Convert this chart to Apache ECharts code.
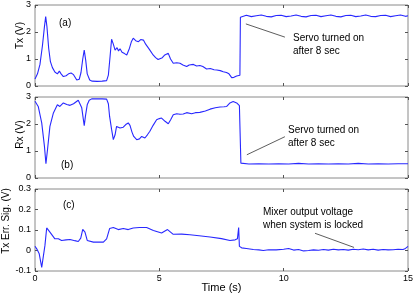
<!DOCTYPE html>
<html><head><meta charset="utf-8">
<script src="https://cdn.jsdelivr.net/npm/echarts@6/dist/echarts.min.js"></script>
<style>html,body{margin:0;padding:0;background:#fff}#c{width:415px;height:294px}</style>
</head><body><div id="c"></div>
<script>
// ---- data ----
const txTime = [0,0.1,0.2,0.3,0.38,0.43,0.48,0.55,0.62,0.7,0.8,0.9,0.98,1.05,1.14,1.25,1.35,1.45,1.55,1.68,1.78,1.85,1.92,1.98,2.04,2.1,2.2,2.3,2.5,2.7,2.88,2.95,3.02,3.08,3.15,3.22,3.3,3.36,3.42,3.5,3.6,3.69,3.8,3.88,3.95,4.05,4.16,4.25,4.36,4.45,4.55,4.62,4.75,4.85,4.95,5.03,5.12,5.22,5.3,5.36,5.45,5.56,5.7,5.83,5.95,6.1,6.2,6.37,6.5,6.63,6.75,6.9,7.05,7.2,7.31,7.45,7.57,7.7,7.8,7.91,8.0,8.11,8.18,8.24,8.26,8.32,8.5,8.7,8.9,9.1,9.3,9.5,9.7,9.9,10.1,10.3,10.5,10.7,10.9,11.1,11.3,11.5,11.7,11.9,12.1,12.3,12.5,12.7,12.9,13.1,13.3,13.5,13.7,13.9,14.1,14.3,14.5,14.7,14.9,15];
const txVolt = [0.26,0.45,0.8,1.5,2.2,2.57,2.2,1.4,0.9,0.68,0.52,0.45,0.55,0.45,0.35,0.38,0.45,0.48,0.42,0.22,0.25,0.5,1.0,1.33,0.95,0.45,0.22,0.18,0.17,0.18,0.2,0.4,1.1,1.73,1.55,1.33,1.42,1.3,1.38,1.25,1.2,1.15,1.4,1.65,1.77,1.68,1.64,1.72,1.7,1.55,1.42,1.33,1.15,1.05,0.98,0.96,1.05,1.15,1.22,1.21,1.0,0.84,0.86,0.84,0.78,0.72,0.78,0.8,0.74,0.76,0.72,0.63,0.65,0.6,0.59,0.57,0.53,0.5,0.45,0.31,0.32,0.37,0.4,0.4,2.55,2.6,2.62,2.57,2.6,2.63,2.58,2.56,2.61,2.62,2.57,2.59,2.63,2.58,2.56,2.61,2.62,2.57,2.6,2.63,2.58,2.56,2.61,2.62,2.57,2.59,2.63,2.58,2.57,2.61,2.62,2.57,2.6,2.63,2.58,2.6];

const rxTime = [0,0.13,0.27,0.38,0.44,0.51,0.6,0.74,0.9,1.0,1.14,1.28,1.41,1.55,1.74,1.82,1.88,1.94,1.98,2.03,2.1,2.18,2.28,2.5,2.7,2.88,2.95,3.0,3.08,3.15,3.22,3.28,3.35,3.42,3.55,3.65,3.75,3.82,3.9,3.97,4.09,4.2,4.29,4.42,4.52,4.62,4.75,4.89,5.0,5.09,5.23,5.36,5.45,5.56,5.7,5.83,5.96,6.1,6.17,6.3,6.45,6.63,6.85,7.04,7.25,7.44,7.6,7.71,7.84,7.97,8.11,8.22,8.28,8.3,8.6,9.0,9.4,9.8,10.2,10.6,11.0,11.4,11.8,12.2,12.6,13.0,13.4,13.8,14.2,14.6,15];
const rxVolt = [2.84,2.65,2.04,1.17,0.53,1.11,1.91,2.41,2.71,2.65,2.78,2.72,2.69,2.75,2.88,2.82,2.6,2.2,1.94,2.3,2.71,2.88,2.93,2.93,2.93,2.92,2.75,2.28,1.8,1.42,1.6,1.91,1.88,1.85,1.88,1.98,2.04,1.95,1.7,1.54,1.42,1.45,1.54,1.48,1.6,1.73,1.95,2.16,2.2,2.22,2.1,2.01,2.15,2.34,2.38,2.36,2.37,2.42,2.44,2.38,2.42,2.43,2.48,2.55,2.6,2.63,2.64,2.65,2.78,2.83,2.78,2.68,0.55,0.53,0.52,0.53,0.52,0.53,0.52,0.54,0.52,0.53,0.52,0.53,0.52,0.54,0.52,0.53,0.52,0.53,0.53];

const errTime = [0,0.07,0.17,0.27,0.33,0.4,0.47,0.6,0.8,0.94,1.07,1.25,1.41,1.6,1.74,1.84,1.92,2.01,2.1,2.35,2.75,2.88,3.0,3.15,3.35,3.55,3.75,3.95,4.2,4.49,4.76,5.09,5.33,5.56,5.9,6.23,6.6,7.04,7.5,7.84,8.05,8.14,8.19,8.22,8.31,8.5,8.78,9.0,9.18,9.4,9.7,10.0,10.2,10.4,10.6,10.8,11.0,11.2,11.4,11.6,11.8,12.0,12.2,12.4,12.6,12.8,13.0,13.2,13.4,13.6,13.8,14.0,14.2,14.4,14.6,14.8,14.9,15];
const errVolt = [0.021,0.008,-0.016,-0.082,-0.08,0.025,0.11,0.09,0.057,0.057,0.049,0.052,0.054,0.048,0.044,0.06,0.103,0.09,0.049,0.041,0.041,0.057,0.107,0.112,0.102,0.107,0.102,0.11,0.112,0.112,0.098,0.085,0.102,0.079,0.08,0.077,0.072,0.066,0.058,0.049,0.052,0.057,0.112,0.02,0.013,0.01,0.005,0.003,0.0,0.004,0.003,0.006,0.01,0.002,0.005,-0.002,0.0,0.003,0.001,0.005,0.002,0.006,0.003,0.005,0.002,0.006,0.004,0.007,0.003,0.006,0.002,0.005,0.003,0.004,0.006,0.005,0.01,0.02];

const xTicks = [0, 5, 10, 15];
const yLabels = ['Tx (V)', 'Rx (V)', 'Tx Err. Sig. (V)'];
const panelTags = ['(a)', '(b)', '(c)'];

// ---- chart ----
const zip = (t, v) => t.map((x, i) => [x, v[i]]);
const BORDER = '#8a8a8a';
const LINE = '#2828ff';
const font = 'Liberation Sans, Arial, sans-serif';

const grids = [
  {left: 35, top: 5, width: 373, height: 81},
  {left: 35, top: 97, width: 373, height: 81},
  {left: 35, top: 189, width: 373, height: 82}
].map(g => Object.assign(g, {show: true, borderColor: BORDER, borderWidth: 1, containLabel: false, outerBoundsMode: 'none'}));

const yRanges = [[0, 3, 1], [0, 3, 1], [-0.1, 0.3, 0.1]];
const nameGaps = [10, 10, 24];
const nameShift = [20, 6, 18];

const xAxes = [], yAxes = [];
for (let i = 0; i < 3; i++) {
  const base = {type: 'value', gridIndex: i, min: xTicks[0], max: xTicks[xTicks.length - 1], interval: 5,
    splitLine: {show: false}, axisLine: {show: false, onZero: false},
    axisTick: {show: true, inside: true, length: 3, lineStyle: {color: '#555'}}};
  xAxes.push(Object.assign({}, base, {position: 'bottom',
    axisLabel: {show: i === 2, color: '#000', fontSize: 9, fontFamily: font, margin: 3},
    name: i === 2 ? 'Time (s)' : '', nameLocation: 'middle', nameGap: 11, nameMoveOverlap: false,
    nameTextStyle: {color: '#000', fontSize: 11, fontFamily: font, verticalAlign: 'top'}}));
  xAxes.push(Object.assign({}, base, {position: 'top', axisLabel: {show: false}}));
  const [mn, mx, iv] = yRanges[i];
  const ybase = {type: 'value', gridIndex: i, min: mn, max: mx, interval: iv,
    splitLine: {show: false}, axisLine: {show: false, onZero: false},
    axisTick: {show: true, inside: true, length: 3, lineStyle: {color: '#555'}}};
  yAxes.push(Object.assign({}, ybase, {position: 'left',
    axisLabel: {show: true, color: '#000', fontSize: 9, fontFamily: font, margin: 4,
      formatter: v => (Math.round(v * 10) / 10).toString()},
    name: yLabels[i], nameLocation: 'middle', nameGap: nameGaps[i], nameMoveOverlap: false,
    nameTextStyle: {color: '#000', fontSize: 10, fontFamily: font, padding: [0, 0, 0, nameShift[i]]}}));
  yAxes.push(Object.assign({}, ybase, {position: 'right', axisLabel: {show: false}}));
}

const arrowStyle = {color: '#333', width: 0.8, type: 'solid'};
function arrow(from, to) {
  return {
    silent: true, symbol: ['none', 'arrow'], symbolSize: [0, 5],
    lineStyle: arrowStyle, label: {show: false},
    data: [[{coord: from}, {coord: to}]]
  };
}

const lineSeries = (data, i, ml) => ({
  type: 'line', xAxisIndex: 2 * i, yAxisIndex: 2 * i, data: data,
  showSymbol: false, symbol: 'none', smooth: false, animation: false,
  lineStyle: {color: LINE, width: 1.1}, markLine: ml
});

const series = [
  lineSeries(zip(txTime, txVolt), 0, arrow([10.05, 1.81], [8.48, 2.30])),
  lineSeries(zip(rxTime, rxVolt), 1, arrow([10.05, 1.53], [8.52, 0.86])),
  lineSeries(zip(errTime, errVolt), 2, arrow([11.26, 0.084], [12.83, 0.015]))
];

const txt = (left, top, text, size) => ({type: 'text', left, top,
  style: {text, fill: '#000', font: `${size || 10}px ${font}`, lineHeight: 13}});

const chart = echarts.init(document.getElementById('c'), null, {renderer: 'canvas'});
chart.setOption({
  animation: false,
  grid: grids, xAxis: xAxes, yAxis: yAxes, series: series,
  graphic: [
    txt(59, 17, panelTags[0]), txt(61, 159, panelTags[1]), txt(63, 199, panelTags[2]),
    txt(293, 32, 'Servo turned on\nafter 8 sec'),
    txt(288, 124, 'Servo turned on\nafter 8 sec'),
    txt(263, 206, 'Mixer output voltage\nwhen system is locked')
  ]
});
</script></body></html>
